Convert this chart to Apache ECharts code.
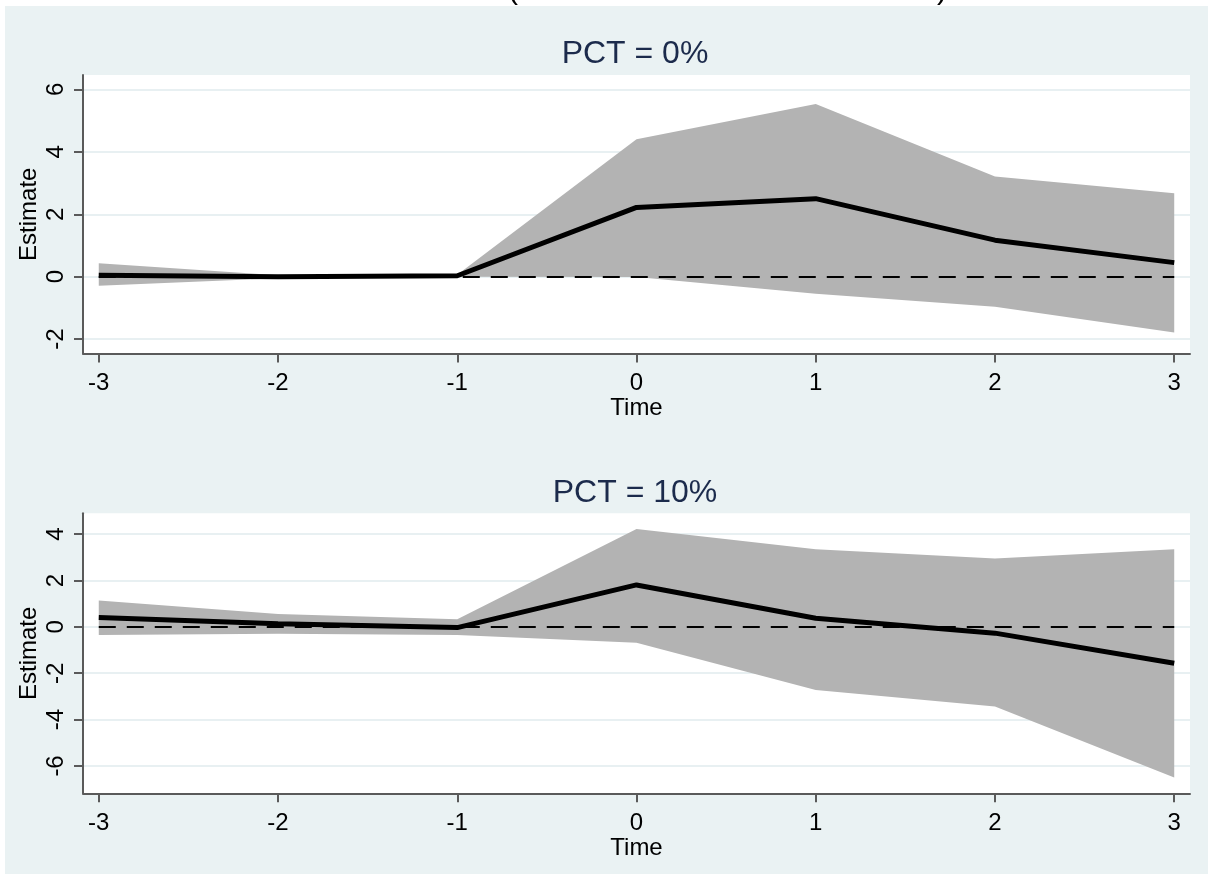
<!DOCTYPE html>
<html>
<head>
<meta charset="utf-8">
<script src="https://cdn.jsdelivr.net/npm/echarts@6/dist/echarts.min.js"></script>
<style>
  html, body { margin: 0; padding: 0; background: #ffffff; }
  #main { width: 1216px; height: 874px; }
</style>
</head>
<body>
<div id="main"></div>
<script>
// event time on the x axis
const times = [-3, -2, -1, 0, 1, 2, 3];
const xTicks = [-3, -2, -1, 0, 1, 2, 3];

// panel 1: PCT = 0%
const est0 = [0.05, 0.0, 0.03, 2.22, 2.50, 1.17, 0.45];
const hi0 = [0.43, 0.05, 0.06, 4.40, 5.53, 3.21, 2.67];
const lo0 = [-0.29, -0.05, 0.0, -0.01, -0.55, -0.96, -1.79];
const yTicks0 = [-2, 0, 2, 4, 6];

// panel 2: PCT = 10%
const est1 = [0.40, 0.13, -0.03, 1.81, 0.37, -0.27, -1.57];
const hi1 = [1.14, 0.56, 0.33, 4.22, 3.35, 2.95, 3.35];
const lo1 = [-0.35, -0.30, -0.35, -0.68, -2.72, -3.44, -6.50];
const yTicks1 = [-6, -4, -2, 0, 2, 4];

const titles = ['PCT = 0%', 'PCT = 10%'];

const chart = echarts.init(document.getElementById('main'));

const font = 'Liberation Sans, Arial, sans-serif';
const axisColor = '#5a5a5a';

function xAxis(idx) {
  return {
    type: 'value',
    gridIndex: idx,
    min: -3.088,
    max: 3.088,
    name: 'Time',
    nameLocation: 'middle',
    nameGap: 43,
    nameMoveOverlap: false,
    nameTextStyle: { fontFamily: font, fontSize: 24, color: '#000' },
    axisLine: { onZero: false, lineStyle: { color: axisColor, width: 2 } },
    axisTick: { length: 9, customValues: xTicks, lineStyle: { color: axisColor, width: 2 } },
    axisLabel: { customValues: xTicks, margin: 18, fontFamily: font, fontSize: 24, color: '#000' },
    splitLine: { show: false }
  };
}

function yAxis(idx, min, max, ticks) {
  return {
    type: 'value',
    gridIndex: idx,
    min: min,
    max: max,
    name: 'Estimate',
    nameLocation: 'middle',
    nameGap: 42,
    nameMoveOverlap: false,
    nameTextStyle: { fontFamily: font, fontSize: 24, color: '#000' },
    axisLine: { show: true, onZero: false, lineStyle: { color: axisColor, width: 2 } },
    axisTick: { show: true, length: 9, customValues: ticks, lineStyle: { color: axisColor, width: 2 } },
    axisLabel: { customValues: ticks, rotate: 90, margin: 15, fontFamily: font, fontSize: 24, color: '#000' },
    splitLine: { show: true, lineStyle: { color: '#e8f0f2', width: 2 } }
  };
}

// grey confidence band as one polygon
function band(idx, hi, lo) {
  return {
    type: 'custom',
    xAxisIndex: idx,
    yAxisIndex: idx,
    z: 2,
    silent: true,
    data: [0],
    renderItem: function (params, api) {
      const pts = [];
      for (let i = 0; i < times.length; i++) pts.push(api.coord([times[i], hi[i]]));
      for (let i = times.length - 1; i >= 0; i--) pts.push(api.coord([times[i], lo[i]]));
      return { type: 'polygon', shape: { points: pts }, style: { fill: '#b3b3b3' } };
    }
  };
}

function zeroLine(idx) {
  return {
    type: 'line',
    xAxisIndex: idx,
    yAxisIndex: idx,
    z: 3,
    data: [],
    markLine: {
      silent: true,
      symbol: 'none',
      label: { show: false },
      lineStyle: { color: '#000', width: 2, type: [17, 11] },
      data: [[{ coord: [xTicks[0], 0] }, { coord: [xTicks[xTicks.length - 1], 0] }]]
    }
  };
}

function estimate(idx, est) {
  return {
    type: 'line',
    xAxisIndex: idx,
    yAxisIndex: idx,
    z: 4,
    symbol: 'none',
    lineStyle: { color: '#000', width: 5 },
    data: times.map((t, i) => [t, est[i]])
  };
}

chart.setOption({
  animation: false,
  graphic: [
    { type: 'rect', z: -10, shape: { x: 5, y: 6, width: 1203, height: 868 }, style: { fill: '#eaf2f3' } },
    { type: 'text', x: 513, y: 6, style: { text: '(', font: '30px Liberation Sans', fill: '#000', align: 'center', verticalAlign: 'bottom' } },
    { type: 'text', x: 942, y: 6, style: { text: ')', font: '30px Liberation Sans', fill: '#000', align: 'center', verticalAlign: 'bottom' } },
    { type: 'text', x: 635, y: 54, style: { text: titles[0], font: '32px Liberation Sans', fill: '#1c2b4c', align: 'center', verticalAlign: 'middle' } },
    { type: 'text', x: 635, y: 493, style: { text: titles[1], font: '32px Liberation Sans', fill: '#1c2b4c', align: 'center', verticalAlign: 'middle' } }
  ],
  grid: [
    { left: 83, right: 26, top: 75, height: 278.5, show: true, backgroundColor: '#ffffff', borderWidth: 0 },
    { left: 83, right: 26, top: 513.3, height: 280, show: true, backgroundColor: '#ffffff', borderWidth: 0 }
  ],
  xAxis: [xAxis(0), xAxis(1)],
  yAxis: [yAxis(0, -2.46, 6.46, yTicks0), yAxis(1, -7.18, 4.9, yTicks1)],
  series: [
    band(0, hi0, lo0), zeroLine(0), estimate(0, est0),
    band(1, hi1, lo1), zeroLine(1), estimate(1, est1)
  ]
});
</script>
</body>
</html>
